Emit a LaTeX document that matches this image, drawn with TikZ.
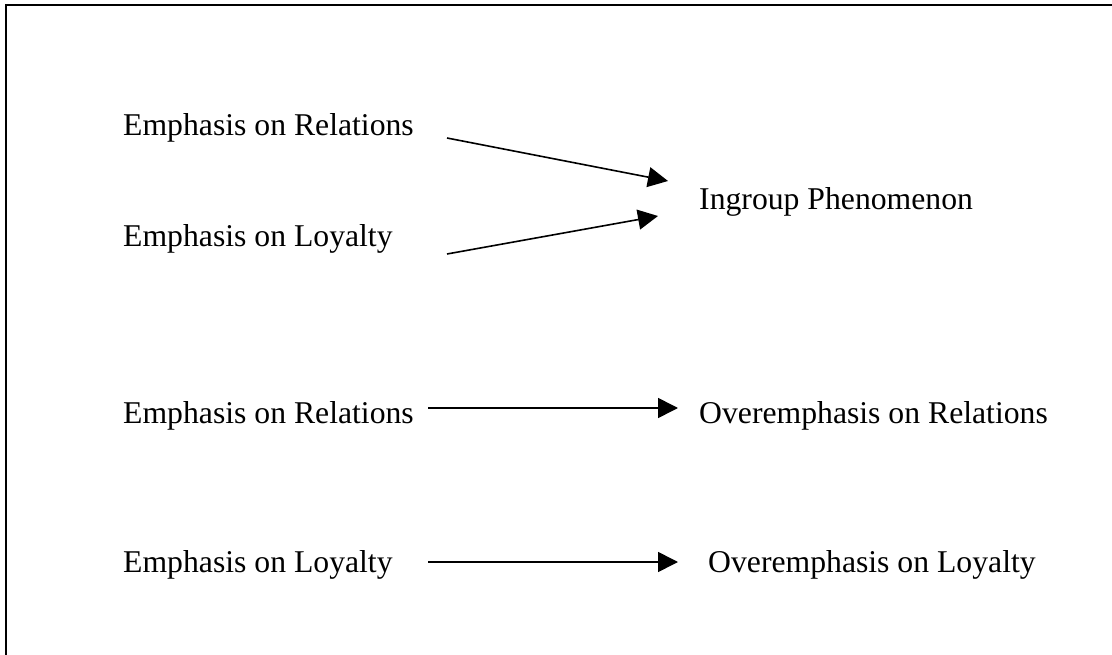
\documentclass[tikz,border=0pt]{standalone}
\usepackage{fontspec}
\setmainfont{Liberation Serif}
\usetikzlibrary{arrows.meta}
\begin{document}
\begin{tikzpicture}[x=1pt,y=-1pt,
  label/.style={anchor=base west,inner sep=0pt,font=\fontsize{31.7}{38}\selectfont},
  arr/.style={line width=1.6pt,-{Triangle[length=20pt,width=20pt]}},
  frame/.style={line width=2pt}]
  \useasboundingbox (0,0) rectangle (1112,655);
  % open frame: top and left sides
  \draw[frame] (1112,5) -- (6,5) -- (6,655);

  % upper group: two causes feeding one effect
  \node[label] (rel1) at (123,136) {Emphasis on Relations};
  \node[label] (loy1) at (123,247) {Emphasis on Loyalty};
  \node[label] (ingroup) at (699,210) {Ingroup Phenomenon};

  % lower rows: one cause, one effect each
  \node[label] (rel2) at (123,423) {Emphasis on Relations};
  \node[label] (overrel) at (699,423) {Overemphasis on Relations};
  \node[label] (loy2) at (123,572) {Emphasis on Loyalty};
  \node[label] (overloy) at (708,572) {Overemphasis on Loyalty};

  % arrow end points
  \coordinate (s1) at (447,138);
  \coordinate (t1) at (668,181);
  \coordinate (s2) at (447,254);
  \coordinate (t2) at (658,216);
  \coordinate (s3) at (428,408);
  \coordinate (t3) at (678,408);
  \coordinate (s4) at (428,562);
  \coordinate (t4) at (678,562);

  \draw[arr] (s1) -- (t1);
  \draw[arr] (s2) -- (t2);
  \draw[arr] (s3) -- (t3);
  \draw[arr] (s4) -- (t4);
\end{tikzpicture}
\end{document}
